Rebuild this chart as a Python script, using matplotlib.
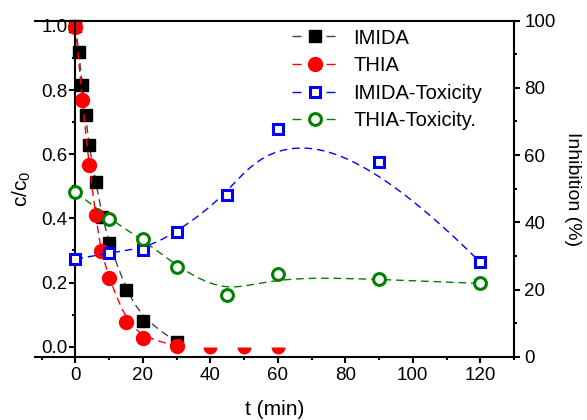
import numpy as np
import matplotlib
matplotlib.use("Agg")
import matplotlib.pyplot as plt
from matplotlib.lines import Line2D
from matplotlib.ticker import MultipleLocator

plt.rcParams['font.family'] = ['Liberation Sans', 'DejaVu Sans']
plt.rcParams['font.size'] = 13

# concentration decay (left axis)
t_imida = [0, 1, 2, 3, 4, 6, 8, 10, 15, 20, 30]
c_imida = [1.0, 0.917, 0.817, 0.722, 0.628, 0.514, 0.405, 0.322, 0.177, 0.081, 0.016]
t_thia = [0, 2, 4, 6, 7.5, 10, 15, 20, 30]
c_thia = [0.997, 0.769, 0.566, 0.412, 0.299, 0.215, 0.078, 0.026, 0.003]
t_thia_zero = [40, 50, 60]
c_thia_zero = [0.0, 0.0, 0.0]

# toxicity (right axis)
t_tox = [0, 10, 20, 30, 45, 60, 90, 120]
inh_imida = [29.0, 31.0, 31.8, 37.0, 48.1, 67.7, 58.0, 28.1]
inh_thia = [49.1, 40.9, 35.0, 26.8, 18.4, 24.5, 23.0, 21.8]


def bspline(x, y, n=300, k=3):
    # clamped B-spline with the data points as control points (Origin style)
    P = np.column_stack([x, y]).astype(float)
    m = len(P)
    k = min(k, m - 1)
    knots = np.concatenate([np.zeros(k), np.linspace(0, 1, m - k + 1), np.ones(k)])
    u = np.linspace(0, 1, n)
    nk = len(knots) - 1
    N = np.zeros((n, nk))
    for i in range(nk):
        N[:, i] = (knots[i] <= u) & (u < knots[i + 1])
    last = max(i for i in range(nk) if knots[i] < knots[i + 1])
    N[u >= 1, :] = 0
    N[u >= 1, last] = 1
    for p in range(1, k + 1):
        newN = np.zeros((n, nk - p))
        for i in range(nk - p):
            d1 = knots[i + p] - knots[i]
            d2 = knots[i + p + 1] - knots[i + 1]
            a = (u - knots[i]) / d1 * N[:, i] if d1 > 0 else 0
            b = (knots[i + p + 1] - u) / d2 * N[:, i + 1] if d2 > 0 else 0
            newN[:, i] = a + b
        N = newN
    C = N @ P
    return C[:, 0], C[:, 1]


fig = plt.figure(figsize=(5.87, 4.2), dpi=100)
ax = fig.add_axes([35 / 587, 1 - 356.7 / 420, 479 / 587, 336 / 420])
ax2 = ax.twinx()

dash = (5.5, 3.5)
gray = '#444444'
red = '#ff0000'
blue = '#0000ff'
green = '#008000'

# smoothed dashed lines
ax.plot(*bspline(t_imida, c_imida), color=gray, lw=1, dashes=dash)
ax.plot(t_imida, c_imida, ls='none', marker='s', ms=9, color='black', clip_on=False)
ax.plot(*bspline(t_thia, c_thia), color=red, lw=1, dashes=dash)
ax.plot(t_thia, c_thia, ls='none', marker='o', ms=10, color=red, clip_on=False)
ax.plot(t_thia_zero, c_thia_zero, ls='none', marker='o', ms=10, color=red,
        fillstyle='bottom', markerfacecoloralt='none', mew=0, clip_on=False)

ax2.plot(*bspline(t_tox, inh_imida), color=blue, lw=1, dashes=dash)
ax2.plot(t_tox, inh_imida, ls='none', marker='s', ms=7, mfc='white', mec=blue, mew=2.2, clip_on=False)
ax2.plot(*bspline(t_tox, inh_thia), color=green, lw=1, dashes=dash)
ax2.plot(t_tox, inh_thia, ls='none', marker='o', ms=8.5, mfc='white', mec=green, mew=2.2, clip_on=False)

# axes limits & spines
ax.set_xlim(-12, 130)
ax.set_ylim(-0.031, 1.016)
ax2.set_ylim(0, 100)

lw = 1.5
ax.spines['left'].set_position(('data', 0))
ax.spines['right'].set_visible(False)
for s in ['left', 'bottom', 'top']:
    ax.spines[s].set_linewidth(lw)
for s in ['left', 'bottom', 'top']:
    ax2.spines[s].set_visible(False)
ax2.spines['right'].set_linewidth(lw)

ax.xaxis.set_major_locator(MultipleLocator(20))
ax.xaxis.set_minor_locator(MultipleLocator(10))
ax.yaxis.set_major_locator(MultipleLocator(0.2))
ax.yaxis.set_minor_locator(MultipleLocator(0.1))
ax2.yaxis.set_major_locator(MultipleLocator(20))
ax2.yaxis.set_minor_locator(MultipleLocator(10))
ax.yaxis.set_major_formatter(plt.FormatStrFormatter('%.1f'))

ax.tick_params(axis='both', which='major', direction='out', length=4.5, width=lw, labelsize=13.5)
ax.tick_params(axis='both', which='minor', direction='out', length=2.5, width=lw)
ax.tick_params(axis='y', pad=1)
ax.tick_params(axis='x', pad=3)
ax2.tick_params(axis='y', which='major', direction='out', length=4.5, width=lw, labelsize=13.5, pad=3)
ax2.tick_params(axis='y', which='minor', direction='out', length=2.5, width=lw)

ax.set_xlabel('t (min)', fontsize=15)
ax.xaxis.set_label_coords(0.5, -0.13)
ax.set_ylabel(r'c/c$_\mathregular{0}$', fontsize=15)
ax.yaxis.set_label_coords(-0.004, 0.5)
ax2.set_ylabel('Inhibition (%)', fontsize=14, rotation=270, va='bottom')
ax2.yaxis.set_label_coords(1.104, 0.5)

handles = [
    Line2D([], [], color=gray, lw=1, dashes=(6.5, 18), marker='s', ms=9, mfc='black', mec='black'),
    Line2D([], [], color=red, lw=1, dashes=(6.5, 18), marker='o', ms=10, mfc=red, mec=red),
    Line2D([], [], color=blue, lw=1, dashes=(6.5, 18), marker='s', ms=7, mfc='white', mec=blue, mew=2.2),
    Line2D([], [], color=green, lw=1, dashes=(6.5, 18), marker='o', ms=8.5, mfc='white', mec=green, mew=2.2),
]
labels = ['IMIDA', 'THIA', 'IMIDA-Toxicity', 'THIA-Toxicity.']
ax2.legend(handles, labels, loc='upper left', bbox_to_anchor=(292 / 587, 1 - 28.5 / 420),
           bbox_transform=fig.transFigure, frameon=False, fontsize=14.5,
           handlelength=2.3, handletextpad=0.75, labelspacing=0.43, borderpad=0, borderaxespad=0)

fig.savefig('out.png', dpi=100)
